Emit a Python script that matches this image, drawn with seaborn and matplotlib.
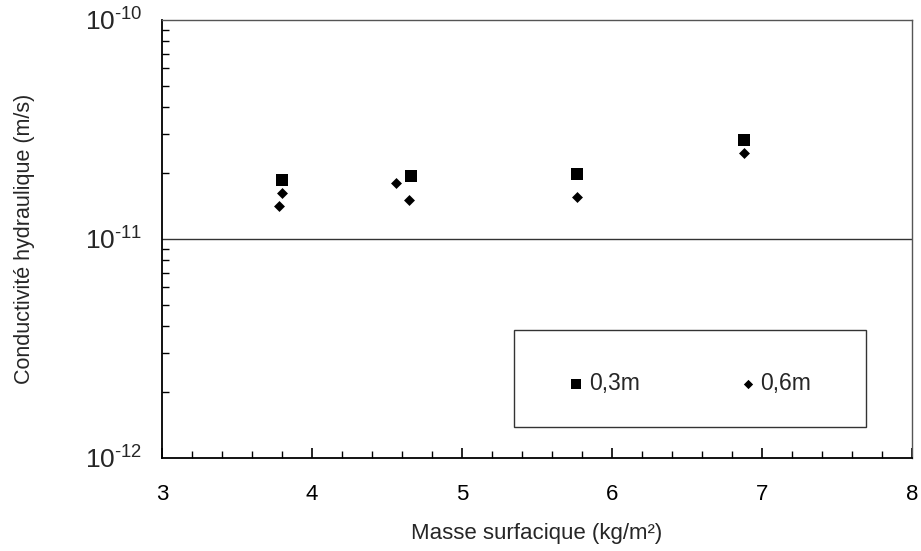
import matplotlib
matplotlib.use('Agg')
import matplotlib.pyplot as plt
from matplotlib.ticker import LogLocator, MultipleLocator, NullFormatter, FixedLocator
from matplotlib.patches import Rectangle
import pandas as pd
import seaborn as sns

# values
masse_03 = [3.80, 4.66, 5.77, 6.88]
k_03 = [1.86e-11, 1.94e-11, 1.98e-11, 2.83e-11]
masse_06 = [3.80, 3.78, 4.56, 4.65, 5.77, 6.88]
k_06 = [1.62e-11, 1.41e-11, 1.80e-11, 1.50e-11, 1.56e-11, 2.46e-11]
x_ticks = [3, 4, 5, 6, 7, 8]
y_ticks = [1e-12, 1e-11, 1e-10]
y_tick_labels = [r'$10^{\text{-}12}$', r'$10^{\text{-}11}$', r'$10^{\text{-}10}$']

df03 = pd.DataFrame({'masse': masse_03, 'k': k_03, 'serie': '0,3m'})
df06 = pd.DataFrame({'masse': masse_06, 'k': k_06, 'serie': '0,6m'})

sns.set_style('white')
plt.rcParams['font.family'] = ['Liberation Sans', 'DejaVu Sans']
plt.rcParams['mathtext.fontset'] = 'custom'
plt.rcParams['mathtext.rm'] = 'Liberation Sans'
plt.rcParams['mathtext.it'] = 'Liberation Sans'

fig, ax = plt.subplots(figsize=(9.21, 5.51), dpi=100)
fig.subplots_adjust(left=0.176, right=0.990, top=0.964, bottom=0.169)

sns.scatterplot(data=df03, x='masse', y='k', marker='s', color='black', s=74,
                linewidth=0, ax=ax, label='0,3m', zorder=3)
sns.scatterplot(data=df06, x='masse', y='k', marker='D', color='black', s=31,
                linewidth=0, ax=ax, label='0,6m', zorder=3)

ax.set_yscale('log')
ax.set_xlim(3, 8)
ax.set_ylim(1e-12, 1e-10)
ax.xaxis.set_major_locator(FixedLocator(x_ticks))
ax.xaxis.set_minor_locator(MultipleLocator(0.2))
ax.set_xticklabels([str(t) for t in x_ticks])
ax.yaxis.set_major_locator(FixedLocator(y_ticks))
ax.set_yticklabels(y_tick_labels)
ax.yaxis.set_minor_locator(LogLocator(base=10, subs=range(2, 10)))
ax.yaxis.set_minor_formatter(NullFormatter())

ax.tick_params(axis='x', which='both', bottom=True, top=False)
ax.tick_params(axis='y', which='both', left=True, right=False)
ax.tick_params(axis='x', which='major', direction='in', length=7, width=1.2,
               labelsize=16, pad=19, colors='black')
ax.tick_params(axis='x', which='minor', direction='in', length=5, width=1, colors='black')
ax.tick_params(axis='y', which='major', direction='in', length=0, labelsize=19, pad=14)
ax.tick_params(axis='y', which='minor', direction='in', length=5, width=1, colors='black')

ax.axhline(1e-11, color='#333333', lw=1, zorder=1)
for side in ['left', 'bottom']:
    ax.spines[side].set_color('black')
    ax.spines[side].set_linewidth(1.3)
for side in ['top', 'right']:
    ax.spines[side].set_color('#555555')
    ax.spines[side].set_linewidth(1)

ax.set_xlabel('Masse surfacique (kg/m²)', fontsize=16)
ax.set_ylabel('Conductivité hydraulique (m/s)', fontsize=15.5)
ax.xaxis.set_label_coords(0.5, -0.148)
ax.yaxis.set_label_coords(-0.17, 0.5)

# legend box
ax.add_patch(Rectangle((0.469, 0.071), 0.470, 0.221, transform=ax.transAxes,
                       fill=False, edgecolor='#333333', lw=1, zorder=4))
leg = ax.legend(loc='center', bbox_to_anchor=(0.703, 0.170), ncol=2, frameon=False,
                fontsize=16.5, columnspacing=4.3, handlelength=0.8,
                handletextpad=0.15, markerscale=0.85)

fig.savefig('out.png', dpi=100)
